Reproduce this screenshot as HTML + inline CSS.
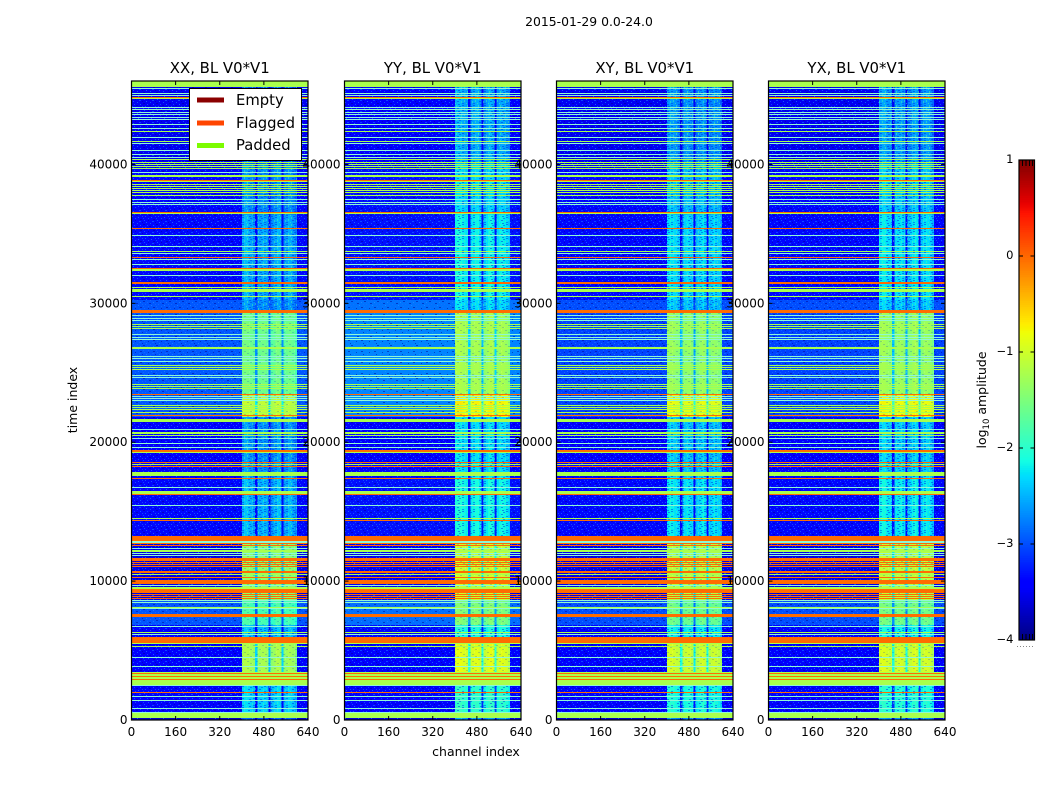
<!DOCTYPE html>
<html lang="en">
<head>
<meta charset="utf-8">
<title>2015-01-29 0.0-24.0</title>
<style>
html,body{margin:0;padding:0;background:#fff;width:1050px;height:800px;overflow:hidden}
svg{display:block}
text{font-family:"DejaVu Sans","Liberation Sans",sans-serif;fill:#000}
</style>
</head>
<body>
<svg id="figure" xmlns="http://www.w3.org/2000/svg" width="1050" height="800" viewBox="0 0 1050 800">
  <defs>
    <pattern id="speckle" width="13" height="11" patternUnits="userSpaceOnUse">
      <rect x="1" y="0" width="1" height="1" fill="#1a70ff" opacity=".7"/>
      <rect x="5" y="0" width="1" height="1" fill="#000090" opacity=".5"/>
      <rect x="9" y="1" width="2" height="1" fill="#1a70ff" opacity=".6"/>
      <rect x="3" y="2" width="1" height="1" fill="#2a90ff" opacity=".6"/>
      <rect x="12" y="2" width="1" height="1" fill="#000090" opacity=".5"/>
      <rect x="7" y="3" width="1" height="1" fill="#1a70ff" opacity=".7"/>
      <rect x="0" y="4" width="2" height="1" fill="#000090" opacity=".5"/>
      <rect x="4" y="5" width="1" height="1" fill="#1a70ff" opacity=".6"/>
      <rect x="10" y="5" width="1" height="1" fill="#2a90ff" opacity=".6"/>
      <rect x="6" y="6" width="2" height="1" fill="#000090" opacity=".5"/>
      <rect x="2" y="7" width="1" height="1" fill="#1a70ff" opacity=".7"/>
      <rect x="12" y="7" width="1" height="1" fill="#1a70ff" opacity=".6"/>
      <rect x="8" y="8" width="1" height="1" fill="#2a90ff" opacity=".6"/>
      <rect x="0" y="9" width="1" height="1" fill="#1a70ff" opacity=".6"/>
      <rect x="5" y="9" width="1" height="1" fill="#1a70ff" opacity=".7"/>
      <rect x="10" y="10" width="2" height="1" fill="#000090" opacity=".5"/>
    </pattern>
    <pattern id="bandMottle" width="9" height="7" patternUnits="userSpaceOnUse">
      <rect x="1" y="1" width="2" height="1" fill="#0030d0" opacity=".22"/>
      <rect x="6" y="0" width="1" height="2" fill="#ffffa0" opacity=".18"/>
      <rect x="4" y="3" width="2" height="1" fill="#0030d0" opacity=".22"/>
      <rect x="0" y="5" width="1" height="1" fill="#ffffa0" opacity=".18"/>
      <rect x="7" y="5" width="2" height="1" fill="#0030d0" opacity=".2"/>
    </pattern>
    <pattern id="bandMottleStrong" width="11" height="7" patternUnits="userSpaceOnUse">
      <rect x="0" y="0" width="2" height="1" fill="#0028e0" opacity=".5"/>
      <rect x="5" y="0" width="1" height="2" fill="#50ffa0" opacity=".5"/>
      <rect x="8" y="1" width="2" height="1" fill="#0028e0" opacity=".45"/>
      <rect x="2" y="2" width="1" height="2" fill="#50ffa0" opacity=".45"/>
      <rect x="6" y="3" width="2" height="1" fill="#0028e0" opacity=".5"/>
      <rect x="10" y="3" width="1" height="2" fill="#50ffa0" opacity=".45"/>
      <rect x="0" y="5" width="2" height="1" fill="#0028e0" opacity=".45"/>
      <rect x="4" y="5" width="1" height="1" fill="#50ffa0" opacity=".5"/>
      <rect x="7" y="6" width="2" height="1" fill="#0028e0" opacity=".5"/>
    </pattern>
  </defs>
  <text x="589" y="26" text-anchor="middle" font-size="12.4">2015-01-29 0.0-24.0</text>
  <g id="panels"></g>
  <g id="legend">
    <rect x="189.5" y="88.5" width="112" height="72" fill="#fff" stroke="#000" stroke-width="1"/>
    <rect x="197" y="97.5" width="27" height="5" fill="#8b0000"/>
    <text x="236" y="105" font-size="14.8">Empty</text>
    <rect x="197" y="120.5" width="27" height="5" fill="#ff4500"/>
    <text x="236" y="128" font-size="14.8">Flagged</text>
    <rect x="197" y="143" width="27" height="5" fill="#7cfc00"/>
    <text x="236" y="150" font-size="14.8">Padded</text>
  </g>
  <text x="476" y="756" text-anchor="middle" font-size="12.5">channel index</text>
  <text x="0" y="0" transform="translate(77,400) rotate(-90)" text-anchor="middle" font-size="12.5">time index</text>
  <g id="colorbar"></g>
  <text transform="translate(986,400) rotate(-90)" text-anchor="middle" font-size="12.5">log<tspan font-size="8.5" dy="3">10</tspan><tspan dy="-3"> amplitude</tspan></text>
  <line x1="1017" y1="646.5" x2="1035" y2="646.5" stroke="#888" stroke-width="1" stroke-dasharray="1 2"/>
</svg>
<script>
// ---- chart data ----
var panelNames = ['XX, BL V0*V1', 'YY, BL V0*V1', 'XY, BL V0*V1', 'YX, BL V0*V1'];
var panelBackgroundOffset = [0, 0.05, 0, 0];
var panelSpread = [0.1, 0.28, 0, 0];
var panelBandOffset = [-0.12, 0.22, 0.1, 0.15];
var xTickValues = [0, 160, 320, 480, 640];
var yTickValues = [0, 10000, 20000, 30000, 40000];
var colorbarTickValues = [-4, -3, -2, -1, 0, 1];
var channelCount = 640;
var timeMax = 46008;
var timeBinSize = 72;
var colorMin = -4;
var colorMax = 1;

// Time segments: first bin of each segment, bottom to top, with log10 amplitude levels.
var segmentStartBins = [0, 2, 35, 79, 95, 120, 184, 243, 303, 325, 408, 420, 505, 555];
var segmentBackgroundLevels = [-3.7, -3.45, -3.45, -3.4, -3.0, -3.55, -3.35, -3.45, -3.05, -3.05, -3.0, -3.35, -3.35, -3.5];
var segmentBandLevels = [-2.9, -2.3, -1.2, -2.4, -1.8, -1.35, -2.45, -2.6, -1.05, -1.55, -2.6, -2.5, -2.65, -2.85];
var segmentSpreadWeights = [0, 0, 0, 0, 0.4, 0, 0, 0, 1, 1, 0.5, 0, 0, 0];

// High-signal channel band: starts at channel 400, each bin 8 channels wide.
var bandFirstChannel = 400;
var bandChannelWidth = 8;
var bandChannelGains = [0.1, 0.15, 0.15, 0.1, 0.05, 0, -1.0, 0, 0.05, 0.1, 0.1, 0, -1.1, -0.1, 0, 0.1, 0.15, 0.05, -1.0, -0.05, 0.05, 0.1, 0.05, 0, -0.15];

// Time bins holding whole-row states.
var paddedBins = [638,637,636,635,634,633,621,588,578,560,557,555,553,551,544,543,538,535,533,531,529,527,524,506,468,450,449,432,430,429,428,423,395,393,391,372,371,354,352,350,335,333,331,314,312,310,307,300,299,298,287,286,284,267,255,247,246,245,244,228,227,226,201,169,168,145,132,131,112,87,76,73,47,45,44,42,41,39,38,37,36,35,6,5,4,3,2];
var paleBins = [631,626,624,612,610,607,605,602,600,595,591,582,576,569,565,562,547,520,517,515,484,473,466,460,455,444,404,401,399,385,382,380,363,361,358,344,342,323,321,319,290,281,276,272,232,214,178,177,171,166,164,134,119,117,111,93,85,62,53,34,23,19,11,7];
var flaggedBins = [622,539,507,491,462,451,437,436,409,408,407,325,304,269,268,257,253,241,225,199,183,182,181,180,179,176,174,161,160,159,157,155,153,148,147,142,139,138,137,136,130,129,128,127,125,123,121,105,104,103,82,81,80,79,78,77,46,43,40,27];
var paddedLevel = -1.22;
var flaggedLevel = -0.02;
var paleColor = '#8ff8d4';

// ---- layout ----
var panelLefts = [131.5, 344.5, 556.5, 768.5];
var panelWidth = 176.5;
var plotTop = 81;
var plotBottom = 720;
var colorbarLeft = 1019;
var colorbarRight = 1034.5;
var colorbarTop = 160;
var colorbarBottom = 640;
var NS = 'http://www.w3.org/2000/svg';

function make(tag, attrs, parent) {
  var el = document.createElementNS(NS, tag);
  for (var k in attrs) el.setAttribute(k, attrs[k]);
  parent.appendChild(el);
  return el;
}
function xScale(channel, left) { return left + channel / channelCount * panelWidth; }
function yScale(time) { return plotBottom - time / timeMax * (plotBottom - plotTop); }
function cbScale(v) { return colorbarBottom - (v - colorMin) / (colorMax - colorMin) * (colorbarBottom - colorbarTop); }
function ramp(t, pts) {
  for (var i = 1; i < pts.length; i++) {
    if (t <= pts[i][0]) {
      var a = pts[i - 1], b = pts[i];
      return a[1] + (b[1] - a[1]) * (t - a[0]) / (b[0] - a[0]);
    }
  }
  return pts[pts.length - 1][1];
}
function jet(level) {
  var t = Math.max(0, Math.min(1, (level - colorMin) / (colorMax - colorMin)));
  var r = ramp(t, [[0, 0], [0.35, 0], [0.66, 1], [0.89, 1], [1, 0.5]]);
  var g = ramp(t, [[0, 0], [0.125, 0], [0.375, 1], [0.64, 1], [0.91, 0], [1, 0]]);
  var b = ramp(t, [[0, 0.5], [0.11, 1], [0.34, 1], [0.65, 0], [1, 0]]);
  return 'rgb(' + Math.round(r * 255) + ',' + Math.round(g * 255) + ',' + Math.round(b * 255) + ')';
}
function segmentOf(bin) {
  var s = 0;
  for (var i = 0; i < segmentStartBins.length; i++) if (bin >= segmentStartBins[i]) s = i;
  return s;
}

// Merge time bins into runs with equal state so each run is drawn once.
var binCount = Math.ceil(timeMax / timeBinSize);
var binState = [];
for (var b = 0; b < binCount; b++) binState.push('s' + segmentOf(b));
paddedBins.forEach(function (v) { binState[v] = 'padded'; });
paleBins.forEach(function (v) { binState[v] = 'pale'; });
flaggedBins.forEach(function (v) { binState[v] = 'flagged'; });
var runs = [];
for (var r = 0; r < binCount; r++) {
  var last = runs[runs.length - 1];
  if (last && last.state === binState[r]) last.end = r + 1;
  else runs.push({ state: binState[r], start: r, end: r + 1 });
}

var panelsGroup = document.getElementById('panels');
panelNames.forEach(function (name, p) {
  var left = panelLefts[p];
  var g = make('g', {}, panelsGroup);
  
  
  var cells = make('g', { 'shape-rendering': 'crispEdges' }, g);
  
  

  runs.forEach(function (run) {
    var yTop = Math.round(yScale(run.end * timeBinSize));
    var yBot = Math.round(yScale(run.start * timeBinSize));
    var full = null;
    if (run.state === 'padded') full = jet(paddedLevel);
    if (run.state === 'flagged') full = jet(flaggedLevel);
    if (run.state === 'pale') full = paleColor;
    var x0 = xScale(0, left);
    var x1 = xScale(channelCount, left);
    if (full) {
      var row = make('rect', { x: x0, y: yTop, width: x1 - x0, height: yBot - yTop, fill: full }, cells);
      
      
      return;
    }
    var seg = +run.state.slice(1);
    var bg = segmentBackgroundLevels[seg] + panelBackgroundOffset[p] + segmentSpreadWeights[seg] * panelSpread[p];
    var bgRect = make('rect', { x: x0, y: yTop, width: x1 - x0, height: yBot - yTop, fill: jet(bg) }, cells);
    
    
    var tex = make('rect', { x: x0, y: yTop, width: x1 - x0, height: yBot - yTop, fill: 'url(#speckle)' }, cells);
    
    
    var bandBase = segmentBandLevels[seg] + panelBandOffset[p];
    bandChannelGains.forEach(function (gain, i) {
      var level = Math.max(bg, bandBase + gain);
      var cx0 = xScale(bandFirstChannel + i * bandChannelWidth, left);
      var cx1 = xScale(bandFirstChannel + (i + 1) * bandChannelWidth, left);
      var cell = make('rect', { x: cx0, y: yTop, width: cx1 - cx0, height: yBot - yTop, fill: jet(level) }, cells);
      
      
    });
    var bx0 = xScale(bandFirstChannel, left);
    var bx1 = xScale(bandFirstChannel + bandChannelGains.length * bandChannelWidth, left);
    var mottle = make('rect', { x: bx0, y: yTop, width: bx1 - bx0, height: yBot - yTop, fill: bandBase < -2 ? 'url(#bandMottleStrong)' : 'url(#bandMottle)' }, cells);
    
    
  });

  var frame = make('rect', { x: left, y: plotTop, width: panelWidth, height: plotBottom - plotTop, fill: 'none', stroke: '#000', 'stroke-width': 1.2 }, g);
  
  

  var title = make('text', { x: left + panelWidth / 2, y: 73, 'text-anchor': 'middle', 'font-size': 14.9 }, g);
  title.textContent = name;
  
  

  xTickValues.forEach(function (v) {
    var x = xScale(v, left);
    var t1 = make('line', { x1: x, x2: x, y1: plotBottom, y2: plotBottom - 4, stroke: '#000', 'stroke-width': 1 }, g);
    
    
    var t2 = make('line', { x1: x, x2: x, y1: plotTop, y2: plotTop + 4, stroke: '#000', 'stroke-width': 1 }, g);
    
    
    var lab = make('text', { x: x, y: 736, 'text-anchor': 'middle', 'font-size': 12 }, g);
    lab.textContent = String(v);
    
    
  });
  yTickValues.forEach(function (v) {
    var y = yScale(v);
    var t1 = make('line', { x1: left, x2: left + 4, y1: y, y2: y, stroke: '#000', 'stroke-width': 1 }, g);
    
    
    var t2 = make('line', { x1: left + panelWidth, x2: left + panelWidth - 4, y1: y, y2: y, stroke: '#000', 'stroke-width': 1 }, g);
    
    
    var lab = make('text', { x: left - 4, y: y + 4, 'text-anchor': 'end', 'font-size': 12 }, g);
    lab.textContent = String(v);
    
    
  });
});

// ---- colorbar ----
var cb = document.getElementById('colorbar');
var cbFill = make('g', { 'shape-rendering': 'crispEdges' }, cb);


var cbSteps = 256;
for (var s = 0; s < cbSteps; s++) {
  var lo = colorMin + (colorMax - colorMin) * s / cbSteps;
  var hi = colorMin + (colorMax - colorMin) * (s + 1) / cbSteps;
  var seg = make('rect', { x: colorbarLeft, y: cbScale(hi), width: colorbarRight - colorbarLeft, height: cbScale(lo) - cbScale(hi) + 0.6, fill: jet((lo + hi) / 2) }, cbFill);
  
  
}
var cbFrame = make('rect', { x: colorbarLeft, y: colorbarTop, width: colorbarRight - colorbarLeft, height: colorbarBottom - colorbarTop, fill: 'none', stroke: '#000', 'stroke-width': 1.2 }, cb);


colorbarTickValues.forEach(function (v) {
  var y = cbScale(v);
  var t1 = make('line', { x1: colorbarLeft, x2: colorbarLeft + 4, y1: y, y2: y, stroke: '#000', 'stroke-width': 1 }, cb);
  
  
  var t2 = make('line', { x1: colorbarRight, x2: colorbarRight - 4, y1: y, y2: y, stroke: '#000', 'stroke-width': 1 }, cb);
  
  
  var lab = make('text', { x: 1013.5, y: y + 3, 'text-anchor': 'end', 'font-size': 11.5 }, cb);
  lab.textContent = v < 0 ? '\u2212' + Math.abs(v) : String(v);
  
  
});
[1022.5, 1026, 1029.5, 1032.5].forEach(function (x) {
  var a = make('line', { x1: x, x2: x, y1: colorbarTop, y2: colorbarTop + 6, stroke: '#000', 'stroke-width': 1 }, cb);
  
  
  var c = make('line', { x1: x, x2: x, y1: colorbarBottom, y2: colorbarBottom - 6, stroke: '#000', 'stroke-width': 1 }, cb);
  
  
});
</script>
</body>
</html>
